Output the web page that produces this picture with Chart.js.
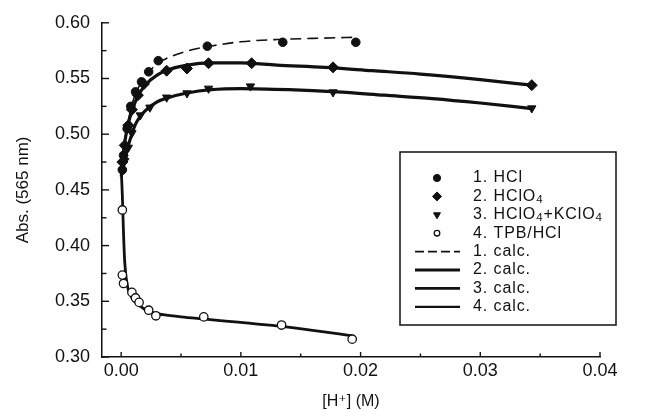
<!DOCTYPE html>
<html><head><meta charset="utf-8">
<script src="https://cdn.jsdelivr.net/npm/chart.js@4.4.1/dist/chart.umd.min.js"></script>
<style>html,body{margin:0;padding:0;background:#fff;}#wrap{width:651px;height:410px;}</style>
</head><body><div id="wrap"><canvas id="c" width="651" height="410"></canvas></div>
<script>
// ---- data ----
const hclX = [0.0001, 0.0002, 0.0005, 0.0008, 0.0012, 0.0017, 0.0023, 0.0031, 0.0072, 0.0135, 0.0196];
const hclY = [0.468, 0.481, 0.505, 0.525, 0.538, 0.547, 0.556, 0.566, 0.579, 0.5825, 0.5825];
const hclo4X = [0.0001, 0.0003, 0.0006, 0.0009, 0.0014, 0.0019, 0.0038, 0.0055, 0.0073, 0.0109, 0.0177, 0.0343];
const hclo4Y = [0.475, 0.490, 0.508, 0.522, 0.535, 0.545, 0.557, 0.559, 0.5637, 0.5637, 0.560, 0.544];
const kclo4X = [0.0001, 0.0003, 0.0006, 0.0009, 0.0016, 0.0024, 0.0038, 0.0055, 0.0073, 0.0108, 0.0177, 0.0343];
const kclo4Y = [0.467, 0.476, 0.488, 0.501, 0.517, 0.524, 0.533, 0.5368, 0.541, 0.543, 0.5377, 0.5233];
const tpbX = [0.0001, 0.0001, 0.0002, 0.0009, 0.0012, 0.0015, 0.0023, 0.0029, 0.0069, 0.0134, 0.0193];
const tpbY = [0.432, 0.3735, 0.366, 0.358, 0.353, 0.349, 0.342, 0.337, 0.336, 0.3287, 0.316];

const calc1X = [0, 0.0002, 0.0005, 0.001, 0.0015, 0.002, 0.003, 0.004, 0.006, 0.008, 0.010, 0.013, 0.016, 0.0195];
const calc1Y = [0.465, 0.485, 0.507, 0.530, 0.543, 0.552, 0.563, 0.569, 0.576, 0.580, 0.583, 0.585, 0.586, 0.587];
const calc2X = [0, 0.0002, 0.0005, 0.001, 0.0015, 0.002, 0.003, 0.004, 0.0055, 0.0075, 0.010, 0.013, 0.017, 0.021, 0.025, 0.030, 0.0343];
const calc2Y = [0.465, 0.485, 0.505, 0.524, 0.536, 0.544, 0.553, 0.558, 0.562, 0.564, 0.564, 0.562, 0.560, 0.557, 0.554, 0.549, 0.544];
const calc3X = [0, 0.0002, 0.0005, 0.0008, 0.0012, 0.0016, 0.002, 0.003, 0.004, 0.0055, 0.0075, 0.010, 0.014, 0.018, 0.022, 0.026, 0.030, 0.0343];
const calc3Y = [0.462, 0.472, 0.486, 0.497, 0.509, 0.516, 0.521, 0.529, 0.533, 0.537, 0.540, 0.541, 0.540, 0.538, 0.535, 0.532, 0.528, 0.523];
const calc4X = [0, 0.0001, 0.0002, 0.0003, 0.0005, 0.0008, 0.0012, 0.0018, 0.0025, 0.0035, 0.005, 0.007, 0.010, 0.013, 0.016, 0.0193];
const calc4Y = [0.470, 0.445, 0.410, 0.385, 0.365, 0.355, 0.349, 0.344, 0.340, 0.338, 0.336, 0.334, 0.331, 0.328, 0.324, 0.319];

const seriesLabels = ['1. HCl', '2. HClO₄', '3. HClO₄+KClO₄', '4. TPB/HCl', '1. calc.', '2. calc.', '3. calc.', '4. calc.'];

const xTickValues = [0, 0.01, 0.02, 0.03, 0.04];
const xTickLabels = ['0.00', '0.01', '0.02', '0.03', '0.04'];
const xMinorValues = [0.005, 0.015, 0.025, 0.035];
const yTickValues = [0.30, 0.35, 0.40, 0.45, 0.50, 0.55, 0.60];
const yTickLabels = ['0.30', '0.35', '0.40', '0.45', '0.50', '0.55', '0.60'];
const yMinorValues = [0.325, 0.375, 0.425, 0.475, 0.525, 0.575];

const xTitle = '[H⁺] (M)';
const yTitle = 'Abs. (565 nm)';

// ---- build ----
const pts = (xs, ys) => xs.map((x, i) => ({x: x, y: ys[i]}));
const INK = '#111';
const FAM = '"Liberation Sans", Arial, "DejaVu Sans", sans-serif';

const datasets = [
  {label: seriesLabels[0], data: pts(hclX, hclY), showLine: false, pointStyle: 'circle', pointRadius: 4.3, backgroundColor: INK, borderColor: INK, borderWidth: 1, order: 0, legendR: 3.6},
  {label: seriesLabels[1], data: pts(hclo4X, hclo4Y), showLine: false, pointStyle: 'rectRot', pointRadius: 5.5, backgroundColor: INK, borderColor: INK, borderWidth: 1, order: 0, legendR: 4.5},
  {label: seriesLabels[2], data: pts(kclo4X, kclo4Y), showLine: false, pointStyle: 'triangle', rotation: 180, pointRotation: 180, pointRadius: 4.8, backgroundColor: INK, borderColor: INK, borderWidth: 1, order: 0, legendR: 4},
  {label: seriesLabels[3], data: pts(tpbX, tpbY), showLine: false, pointStyle: 'circle', pointRadius: 4.2, backgroundColor: '#fff', borderColor: INK, borderWidth: 1.3, order: 0, legendR: 2.8},
  {label: seriesLabels[4], data: pts(calc1X, calc1Y), showLine: true, pointRadius: 0, borderColor: INK, borderWidth: 1.6, borderDash: [11, 6], cubicInterpolationMode: 'monotone', order: 1, isLine: true},
  {label: seriesLabels[5], data: pts(calc2X, calc2Y), showLine: true, pointRadius: 0, borderColor: INK, borderWidth: 3.2, cubicInterpolationMode: 'monotone', order: 1, isLine: true},
  {label: seriesLabels[6], data: pts(calc3X, calc3Y), showLine: true, pointRadius: 0, borderColor: INK, borderWidth: 3.2, cubicInterpolationMode: 'monotone', order: 1, isLine: true},
  {label: seriesLabels[7], data: pts(calc4X, calc4Y), showLine: true, pointRadius: 0, borderColor: INK, borderWidth: 2.8, cubicInterpolationMode: 'monotone', order: 1, isLine: true}
];

// inward major/minor ticks
const inTicks = {
  id: 'inTicks',
  afterDraw(chart, args, o) {
    const ctx = chart.ctx, xs = chart.scales.x, ys = chart.scales.y, a = chart.chartArea;
    ctx.save();
    ctx.strokeStyle = INK; ctx.lineWidth = 1.4;
    const xl = (vals, len) => vals.forEach(v => { const p = xs.getPixelForValue(v); ctx.beginPath(); ctx.moveTo(p, a.bottom); ctx.lineTo(p, a.bottom - len); ctx.stroke(); });
    const yl = (vals, len) => vals.forEach(v => { const p = ys.getPixelForValue(v); ctx.beginPath(); ctx.moveTo(a.left, p); ctx.lineTo(a.left + len, p); ctx.stroke(); });
    xl(xTickValues, o.xMajor); xl(xMinorValues, o.xMinor);
    yl(yTickValues, o.yMajor); yl(yMinorValues, o.yMinor);
    ctx.restore();
  }
};

// text with subscripts
const SUB = {'₀':'0','₁':'1','₂':'2','₃':'3','₄':'4','₅':'5','₆':'6','₇':'7','₈':'8','₉':'9'};
function richText(ctx, text, x, y, size, spacing) {
  let cx = x;
  for (const ch of text) {
    let s = size, dy = 0, c = ch;
    if (SUB[ch]) { c = SUB[ch]; s = size * 0.72; dy = size * 0.22; }
    ctx.font = s + 'px ' + FAM;
    ctx.fillText(c, cx, y + dy);
    cx += ctx.measureText(c).width + spacing;
  }
}

const boxLegend = {
  id: 'boxLegend',
  beforeDraw(chart) {
    const ctx = chart.ctx;
    ctx.save(); ctx.fillStyle = '#fff'; ctx.fillRect(0, 0, chart.width, chart.height); ctx.restore();
  },
  afterDraw(chart, args, o) {
    const ctx = chart.ctx;
    ctx.save();
    ctx.strokeStyle = INK; ctx.lineWidth = 1.5;
    ctx.strokeRect(o.left, o.top, o.width, o.height);
    ctx.textBaseline = 'middle'; ctx.textAlign = 'left';
    chart.data.datasets.forEach((ds, i) => {
      const y = o.firstRow + i * o.rowGap;
      if (ds.isLine) {
        ctx.save();
        ctx.strokeStyle = INK;
        ctx.lineWidth = i === 4 ? 1.6 : (i === 7 ? 2.2 : 2.8);
        ctx.setLineDash(ds.borderDash ? [9, 4] : []);
        ctx.beginPath(); ctx.moveTo(o.lineX0, y); ctx.lineTo(o.lineX1, y); ctx.stroke();
        ctx.restore();
      } else {
        ctx.save();
        ctx.fillStyle = ds.backgroundColor; ctx.strokeStyle = ds.borderColor; ctx.lineWidth = ds.borderWidth;
        Chart.helpers.drawPoint(ctx, {pointStyle: ds.pointStyle, radius: ds.legendR, rotation: ds.rotation || 0, borderWidth: ds.borderWidth}, o.markerX, y);
        ctx.restore();
      }
      ctx.fillStyle = INK;
      richText(ctx, ds.label, o.textX, y, o.fontSize, o.spacing);
    });
    ctx.restore();
  }
};

const chart = new Chart(document.getElementById('c'), {
  type: 'scatter',
  data: {datasets: datasets},
  options: {
    responsive: false,
    animation: false,
    devicePixelRatio: 1,
    layout: {padding: {top: 22, right: 51, left: 0, bottom: 0}},
    elements: {point: {hoverRadius: 0}},
    plugins: {
      legend: {display: false},
      tooltip: {enabled: false},
      inTicks: {xMajor: 5, xMinor: 3.5, yMajor: 7, yMinor: 4.5},
      boxLegend: {left: 400, top: 152, width: 216, height: 173, firstRow: 178, rowGap: 18.4, markerX: 437, lineX0: 415, lineX1: 460, textX: 473, fontSize: 16, spacing: 0.9}
    },
    scales: {
      x: {
        type: 'linear', min: -0.0016, max: 0.04,
        afterBuildTicks: s => { s.ticks = xTickValues.map(v => ({value: v})); },
        afterFit: s => { s.height = 53; },
        grid: {display: false, drawTicks: false},
        border: {display: true, color: INK, width: 1.5},
        ticks: {autoSkip: false, maxRotation: 0, padding: 3, color: INK, font: {family: FAM, size: 18},
                callback: v => xTickLabels[xTickValues.indexOf(v)]},
        title: {display: true, text: xTitle, color: INK, font: {family: FAM, size: 16, lineHeight: 1}, padding: {top: 0, bottom: 0}}
      },
      y: {
        type: 'linear', min: 0.30, max: 0.60,
        afterBuildTicks: s => { s.ticks = yTickValues.map(v => ({value: v})); },
        afterFit: s => { s.width = 102; },
        grid: {display: false, drawTicks: false},
        border: {display: true, color: INK, width: 1.5},
        ticks: {autoSkip: false, padding: 12, color: INK, font: {family: FAM, size: 18},
                callback: v => yTickLabels[yTickValues.indexOf(v)]},
        title: {display: true, text: yTitle, color: INK, font: {family: FAM, size: 17}, padding: {top: 13, bottom: 0}}
      }
    }
  },
  plugins: [inTicks, boxLegend]
});
</script></body></html>
